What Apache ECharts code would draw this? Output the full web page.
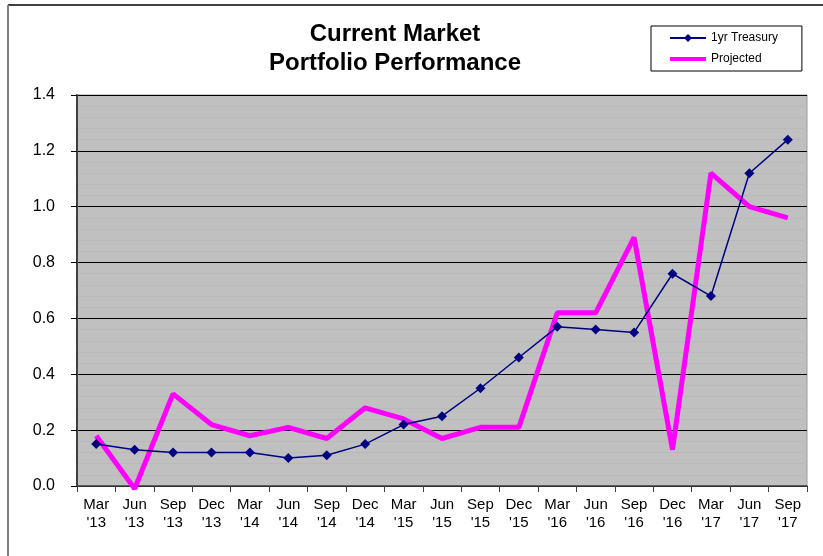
<!DOCTYPE html>
<html><head><meta charset="utf-8">
<script src="https://cdn.jsdelivr.net/npm/echarts@6/dist/echarts.min.js"></script>
<style>html,body{margin:0;padding:0;background:#fff}#c{width:823px;height:556px}</style>
</head><body><div id="c"></div>
<script>
var categories = ["Mar\n'13","Jun\n'13","Sep\n'13","Dec\n'13","Mar\n'14","Jun\n'14","Sep\n'14","Dec\n'14","Mar\n'15","Jun\n'15","Sep\n'15","Dec\n'15","Mar\n'16","Jun\n'16","Sep\n'16","Dec\n'16","Mar\n'17","Jun\n'17","Sep\n'17"];
var treasury = [0.15,0.13,0.12,0.12,0.12,0.10,0.11,0.15,0.22,0.25,0.35,0.46,0.57,0.56,0.55,0.76,0.68,1.12,1.24];
var projected = [0.18,-0.01,0.33,0.22,0.18,0.21,0.17,0.28,0.24,0.17,0.21,0.21,0.62,0.62,0.89,0.13,1.12,1.00,0.96];
var yMin = 0, yMax = 1.4, yStep = 0.2;

var chart = echarts.init(document.getElementById('c'));
chart.setOption({
  animation: false,
  backgroundColor: '#fff',
  textStyle: {fontFamily: 'Liberation Sans, Arial, sans-serif'},
  title: {
    text: 'Current Market\nPortfolio Performance',
    left: 390, top: 15, textAlign: 'center',
    textStyle: {fontSize: 24, fontWeight: 'bold', color: '#000', lineHeight: 29, fontFamily: 'Liberation Sans, Arial, sans-serif'}
  },
  legend: {
    orient: 'vertical', left: 651, top: 26,
    borderColor: '#000', borderWidth: 1, padding: [6, 24, 6, 18],
    itemWidth: 36, itemHeight: 10, itemGap: 9,
    textStyle: {fontSize: 12, color: '#000', fontFamily: 'Liberation Sans, Arial, sans-serif'},
    data: ['1yr Treasury', {name: 'Projected', icon: 'path://M0,0 L36,0 L36,4 L0,4 Z'}]
  },
  grid: {left: 77, right: 16, top: 95, bottom: 70, show: true, backgroundColor: '#C0C0C0', borderColor: '#9a9a9a', borderWidth: 1},
  xAxis: {
    type: 'category', data: categories, boundaryGap: true,
    axisLine: {lineStyle: {color: '#404040', width: 1.5}},
    axisTick: {show: true, length: 6, lineStyle: {color: '#404040'}},
    axisLabel: {fontSize: 15, color: '#000', lineHeight: 18, margin: 10, interval: 0}
  },
  yAxis: {
    type: 'value', min: yMin, max: yMax, interval: yStep,
    axisLine: {show: true, lineStyle: {color: '#404040', width: 2}},
    axisTick: {show: true, length: 6, lineStyle: {color: '#000'}},
    axisLabel: {fontSize: 16, color: '#000', margin: 22, formatter: function(v){return v.toFixed(1);}},
    splitLine: {lineStyle: {color: '#000', width: 1}},
    minorTick: {show: true, splitNumber: 5, length: 0},
    minorSplitLine: {show: true, lineStyle: {color: '#b9b9b9', width: 1}}
  },
  series: [
    {name: '1yr Treasury', type: 'line', data: treasury, color: '#000080', z: 3,
     lineStyle: {width: 1.5, color: '#000080'}, symbol: 'diamond', symbolSize: 10, showSymbol: true,
     itemStyle: {color: '#000080'}},
    {name: 'Projected', type: 'line', data: projected, color: '#FF00FF', z: 2, clip: false,
     lineStyle: {width: 5, color: '#FF00FF'}, symbol: 'none', itemStyle: {color: '#FF00FF'}}
  ],
  graphic: [
    {type: 'line', shape: {x1: 8, y1: 5, x2: 823, y2: 5}, style: {stroke: '#000', lineWidth: 1.5}},
    {type: 'line', shape: {x1: 8, y1: 5, x2: 8, y2: 556}, style: {stroke: '#808080', lineWidth: 2}}
  ]
});
</script></body></html>
